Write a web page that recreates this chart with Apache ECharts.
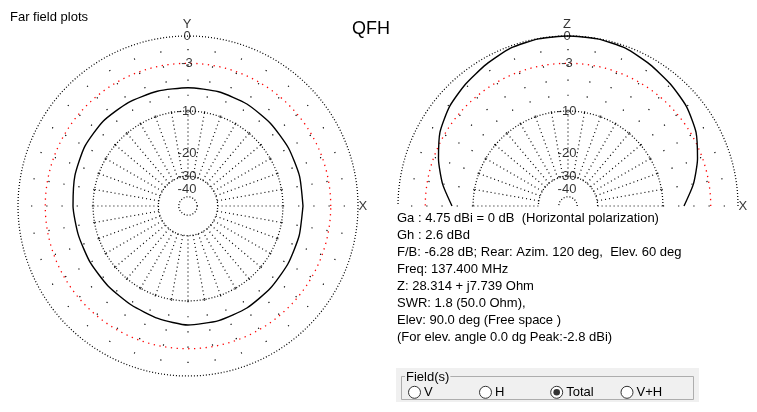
<!DOCTYPE html>
<html><head><meta charset="utf-8">
<script src="https://cdn.jsdelivr.net/npm/echarts@6/dist/echarts.min.js"></script>
<style>html,body{margin:0;padding:0;background:#fff}#c{width:757px;height:412px}</style>
</head><body><div id="c"></div>
<script>
// ---------- data ----------
const chartTitle = 'QFH';
const panelTitle = 'Far field plots';
const gridLevels = [0, -10, -30, -50];          // black dotted circles, dB
const redLevel = -3;                             // red dotted circle, dB
const tickLevels = [0, -3, -10, -20, -30, -40];
const tickLabels = ['0', '-3', '-10', '-20', '-30', '-40'];
const radialAngles = [0,10,20,30,40,50,60,70,80,90,100,110,120,130,140,150,160,170,180,190,200,210,220,230,240,250,260,270,280,290,300,310,320,330,340,350];
const azimuthAngles = [0,15,30,45,60,75,90,105,120,135,150,165,180,195,210,225,240,255,270,285,300,315,330,345,360];
const azimuthDb =     [-6.71,-6.64,-6.56,-6.45,-6.3,-6.23,-6.22,-6.15,-6.05,-5.98,-6.1,-6.4,-6.71,-6.95,-7.02,-7.0,-6.85,-6.5,-6.12,-6.18,-6.3,-6.5,-6.64,-6.7,-6.71];
const elevAngles = [0,10,20,30,40,50,60,70,80,90,100,110,120,130,140,150,160,170,180];
const elevDb =     [-6.56,-4.95,-3.6,-2.4,-1.62,-1.12,-0.66,-0.2,-0.03,0,-0.03,-0.2,-0.66,-1.12,-1.62,-2.4,-3.6,-4.95,-6.56];
const leftAxisNames = ['Y', 'X'];
const rightAxisNames = ['Z', 'X'];
const infoLines = [
  'Ga : 4.75 dBi = 0 dB  (Horizontal polarization)',
  'Gh : 2.6 dBd',
  'F/B: -6.28 dB; Rear: Azim. 120 deg,  Elev. 60 deg',
  'Freq: 137.400 MHz',
  'Z: 28.314 + j7.739 Ohm',
  'SWR: 1.8 (50.0 Ohm),',
  'Elev: 90.0 deg (Free space )',
  '(For elev. angle 0.0 dg Peak:-2.8 dBi)'
];
const fieldTitle = 'Field(s)';
const fieldOptions = ['V', 'H', 'Total', 'V+H'];
const fieldSelected = 'Total';

// ---------- helpers ----------
const FONT = '"Liberation Sans", Arial, sans-serif';
const RMAX = 1.1;                                 // radius axis max (0 dB = 1)
const dbToR = db => Math.pow(0.89, -db / 2);     // ARRL log scale
const series = [];

function circleSeries(pi, db, color, dash, width, a0, a1) {
  const data = [];
  for (let a = a0; a <= a1; a += 1) data.push([dbToR(db), a]);
  series.push({type: 'line', coordinateSystem: 'polar', polarIndex: pi, data, symbol: 'none', silent: true,
    lineStyle: {color, width, type: dash}, z: 1, animation: false});
}
function radialSeries(pi, a, db0, db1, dash) {
  series.push({type: 'line', coordinateSystem: 'polar', polarIndex: pi, data: [[dbToR(db0), a], [dbToR(db1), a]],
    symbol: 'none', silent: true, lineStyle: {color: '#000', width: 1.2, type: dash}, z: 1, animation: false});
}
function labelSeries(pi, items) {
  series.push({type: 'scatter', coordinateSystem: 'polar', polarIndex: pi, symbolSize: 0, silent: true, z: 5,
    animation: false, clip: false,
    data: items.map(it => ({value: [it.r, it.a], name: it.t})),
    label: {show: true, position: 'inside', formatter: p => p.name, color: '#000', fontSize: 13,
      fontFamily: FONT, offset: [-1, 0]}});
}

function buildPolar(pi, a0, a1, angles, dbs, names) {
  gridLevels.forEach(l => circleSeries(pi, l, '#000', [1, 2], 1.25, a0, a1));
  circleSeries(pi, redLevel, '#ff0000', [1.3, 4.5], 1.3, a0, a1);
  radialAngles.filter(a => a >= a0 && a <= a1).forEach(a => {
    radialSeries(pi, a, -30, -10, [1, 3]);
    radialSeries(pi, a, -10, 0, [1.2, 14]);
  });
  series.push({type: 'line', coordinateSystem: 'polar', polarIndex: pi, symbol: 'none', silent: true, smooth: 0.2,
    data: angles.map((a, i) => [dbToR(dbs[i]), a]), lineStyle: {color: '#000', width: 1.4}, z: 3, animation: false});
  const items = tickLevels.map((l, i) => ({r: dbToR(l), a: 90, t: tickLabels[i]}));
  items.push({r: 1.07, a: 90, t: names[0]});
  items.push({r: 1.035, a: 0, t: names[1]});
  labelSeries(pi, items);
}

buildPolar(0, 0, 360, azimuthAngles, azimuthDb, leftAxisNames);
buildPolar(1, 0, 180, elevAngles, elevDb, rightAxisNames);

const polarAxes = idx => ({
  angle: {polarIndex: idx, type: 'value', min: 0, max: 360, startAngle: 0, clockwise: false, show: false,
    axisLine: {show: false}, splitLine: {show: false}, axisTick: {show: false}, axisLabel: {show: false}},
  radius: {polarIndex: idx, type: 'value', min: 0, max: RMAX, show: false,
    axisLine: {show: false}, splitLine: {show: false}, axisTick: {show: false}, axisLabel: {show: false}}
});
const p0 = polarAxes(0), p1 = polarAxes(1);

// ---------- graphics (texts & field box) ----------
const graphic = [];
graphic.push({type: 'text', x: 10, y: 17, style: {text: panelTitle, font: '13px ' + FONT, fill: '#000', verticalAlign: 'middle'}});
graphic.push({type: 'text', x: 371, y: 29, style: {text: chartTitle, font: '18px ' + FONT, fill: '#000', align: 'center', verticalAlign: 'middle'}});
infoLines.forEach((t, i) => graphic.push({type: 'text', x: 397, y: 218.5 + i * 17,
  style: {text: t, font: '13px ' + FONT, fill: '#000', verticalAlign: 'middle'}}));
graphic.push({type: 'rect', shape: {x: 396, y: 368, width: 303, height: 34}, style: {fill: '#f0f0f0'}, z: 0});
graphic.push({type: 'rect', shape: {x: 401.5, y: 376.5, width: 292, height: 23}, style: {fill: 'none', stroke: '#adadad', lineWidth: 1}, z: 1});
graphic.push({type: 'text', x: 405, y: 377.5, style: {text: fieldTitle, font: '13px ' + FONT, fill: '#000', verticalAlign: 'middle',
  backgroundColor: '#f0f0f0', padding: [0, 1, 0, 1]}, z: 2});
const radioX = [414.5, 485.5, 556.7, 627];
fieldOptions.forEach((t, i) => {
  graphic.push({type: 'circle', shape: {cx: radioX[i], cy: 392.3, r: 6}, style: {fill: '#fff', stroke: '#333', lineWidth: 1}, z: 2});
  if (t === fieldSelected) graphic.push({type: 'circle', shape: {cx: radioX[i], cy: 392.3, r: 3.3}, style: {fill: '#333'}, z: 3});
  graphic.push({type: 'text', x: radioX[i] + 9.5, y: 392.5, style: {text: t, font: '13px ' + FONT, fill: '#000', verticalAlign: 'middle'}, z: 2});
});

const chart = echarts.init(document.getElementById('c'), null, {renderer: 'canvas'});
chart.setOption({
  animation: false,
  backgroundColor: '#fff',
  polar: [{center: [188, 206], radius: 170 * RMAX}, {center: [568, 206], radius: 170 * RMAX}],
  angleAxis: [p0.angle, p1.angle],
  radiusAxis: [p0.radius, p1.radius],
  series,
  graphic
});
</script></body></html>
